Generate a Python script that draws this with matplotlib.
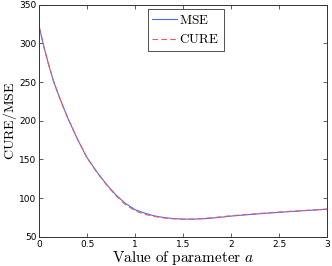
import numpy as np
import matplotlib
matplotlib.use('Agg')
import matplotlib.pyplot as plt

plt.rcParams['mathtext.fontset'] = 'cm'
plt.rcParams['font.size'] = 6.5

# values
a_vals = [0, 0.05, 0.1, 0.15, 0.2, 0.25, 0.3, 0.4, 0.5, 0.6, 0.7, 0.8, 0.9, 1.0,
          1.1, 1.2, 1.3, 1.4, 1.5, 1.6, 1.7, 1.8, 1.9, 2.0, 2.2, 2.4, 2.6, 2.8, 3.0]
mse = [322, 295, 272, 251, 234, 218, 203, 176, 152, 134, 118, 104, 93, 85,
       80.5, 77, 74.8, 73.5, 72.8, 72.7, 73.2, 74.1, 75.3, 76.7, 78.8, 80.7, 82.4, 84.0, 85.5]
cure = [321, 295, 272, 251, 234, 218, 203, 176, 152, 133.5, 117.5, 103, 91.5, 83.5,
        79, 76.2, 74.3, 73.2, 72.7, 72.9, 73.6, 74.6, 75.8, 77.2, 79.2, 81.1, 82.8, 84.3, 85.8]

fig = plt.figure(figsize=(3.32, 2.66), dpi=100)
ax = fig.add_axes([0.118, 0.110, 0.867, 0.872])

ax.plot(a_vals, mse, color='#4a6cf7', lw=0.8, label=r'$\mathrm{MSE}$')
ax.plot(a_vals, cure, color='#f05a5a', lw=0.8, ls=(0, (5, 3)), label=r'$\mathrm{CURE}$')

ax.set_xlim(0, 3)
ax.set_ylim(50, 350)
ax.set_xticks([0, 0.5, 1, 1.5, 2, 2.5, 3])
ax.set_xticklabels(['0', '0.5', '1', '1.5', '2', '2.5', '3'])
ax.set_yticks([50, 100, 150, 200, 250, 300, 350])
ax.tick_params(direction='in', length=3, width=0.6, top=True, right=True,
               labelsize=6.5, pad=2, color='#444444')
for s in ax.spines.values():
    s.set_linewidth(0.7)
    s.set_color('#333333')

ax.set_xlabel(r'$\mathrm{Value\ of\ parameter}\ a$', fontsize=11, labelpad=0)
ax.set_ylabel(r'$\mathrm{CURE/MSE}$', fontsize=10)
ax.yaxis.set_label_coords(-0.07, 0.5)

leg = ax.legend(loc='upper center', bbox_to_anchor=(0.509, 0.981), fontsize=9.5,
                fancybox=False, edgecolor='#333333', framealpha=1, borderaxespad=0,
                handlelength=1.9, handletextpad=0.15, borderpad=0.35, labelspacing=0.5)
leg.get_frame().set_linewidth(0.6)

fig.savefig('out.png', dpi=100)
